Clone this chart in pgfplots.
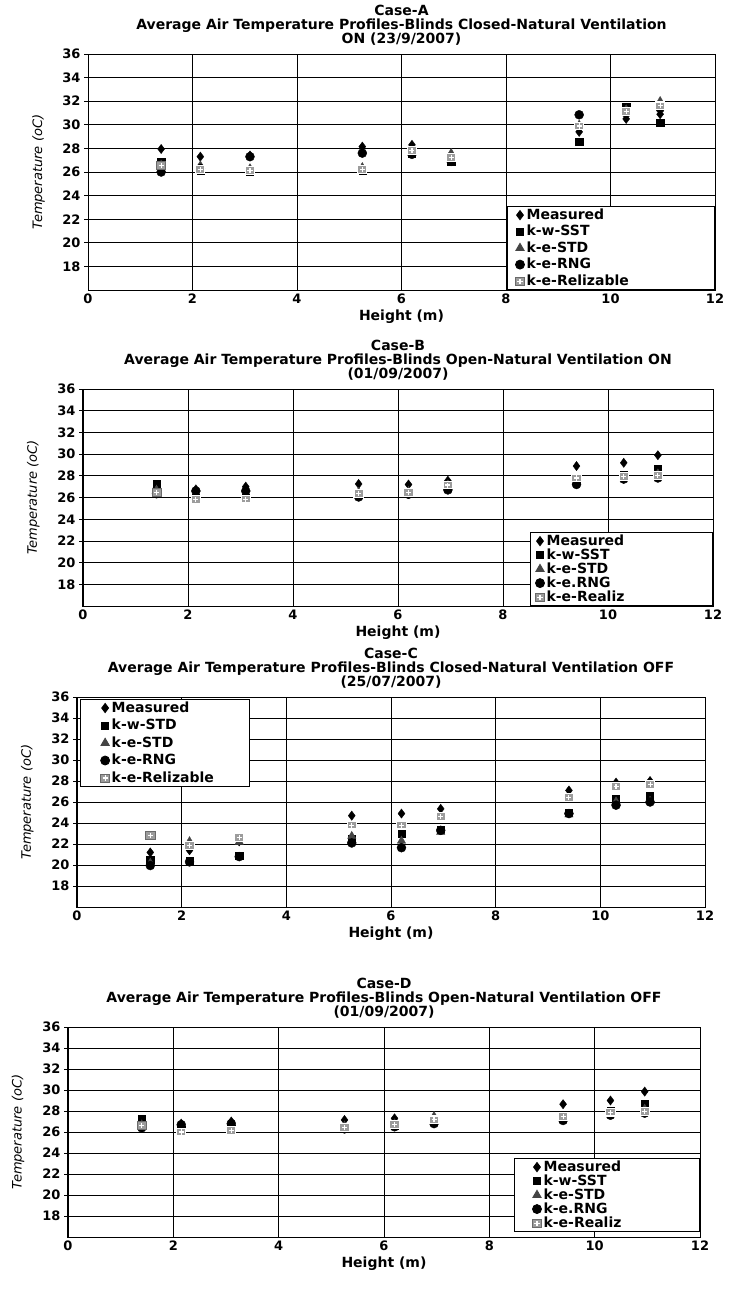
\documentclass[border=0pt]{standalone}
\usepackage{pgfplots}
\pgfplotsset{compat=1.18}
\usepackage{pgfplotstable}
\usepackage{fontspec}
\setmainfont{DejaVu Sans}

\definecolor{stdgray}{HTML}{444444}
\definecolor{realfill}{HTML}{9C9C9C}
\definecolor{realdraw}{HTML}{6A6A6A}

\pgfdeclareplotmark{sqplus}{%
  \pgfpathrectangle{\pgfqpoint{-\pgfplotmarksize}{-0.85\pgfplotmarksize}}{\pgfqpoint{2\pgfplotmarksize}{1.7\pgfplotmarksize}}%
  \pgfusepathqfillstroke
  \pgfsetstrokecolor{white}%
  \pgfsetlinewidth{1.1pt}%
  \pgfpathmoveto{\pgfqpoint{-0.55\pgfplotmarksize}{0pt}}%
  \pgfpathlineto{\pgfqpoint{0.55\pgfplotmarksize}{0pt}}%
  \pgfpathmoveto{\pgfqpoint{0pt}{-0.55\pgfplotmarksize}}%
  \pgfpathlineto{\pgfqpoint{0pt}{0.55\pgfplotmarksize}}%
  \pgfusepathqstroke
}

\pgfplotstableread{
x     meas  sst   std   rng   real
1.4   27.95 26.9  26.6  26.0  26.55
2.15  27.3  26.1  26.55 26.3  26.2
3.1   27.4  26.0  26.3  27.3  26.1
5.25  28.15 26.1  26.4  27.6  26.2
6.2   28.3  27.6  27.8  27.5  27.85
6.95  27.3  26.9  27.6  26.9  27.2
9.4   29.4  28.6  30.0  30.85 29.9
10.3  30.5  31.5  31.3  31.0  31.1
10.95 30.9  30.15 32.0  31.4  31.6
}\dataA

\pgfplotstableread{
x     meas  sst   std   rng   real
1.4   26.9  27.25 26.7  26.35 26.5
2.15  26.75 26.0  26.1  26.6  25.8
3.1   27.0  26.0  26.1  26.6  25.85
5.25  27.25 26.3  26.5  26.05 26.35
6.2   27.2  26.4  26.6  26.3  26.45
6.95  27.55 26.9  27.2  26.7  27.15
9.4   28.9  27.6  27.5  27.2  27.8
10.3  29.2  28.1  27.8  27.7  27.95
10.95 29.9  28.6  28.2  27.8  28.0
}\dataB

\pgfplotstableread{
x     meas  sst   std   rng   real
1.4   21.2  20.5  20.2  19.95 22.8
2.15  21.4  20.4  22.25 20.3  21.85
3.1   22.25 20.9  22.2  20.8  22.6
5.25  24.7  22.5  22.75 22.1  23.8
6.2   24.9  23.0  22.3  21.65 23.8
6.95  25.35 23.4  23.15 23.3  24.6
9.4   27.1  25.0  24.8  24.9  26.45
10.3  27.85 26.3  26.05 25.7  27.5
10.95 28.0  26.6  26.1  26.0  27.7
}\dataC

\pgfplotstableread{
x     meas  sst   std   rng   real
1.4   26.9  27.3  26.7  26.4  26.65
2.15  26.8  26.2  26.3  26.7  26.0
3.1   27.0  26.3  26.4  26.8  26.15
5.25  27.15 26.5  26.6  26.3  26.4
6.2   27.3  26.6  26.8  26.5  26.7
6.95  27.3  27.0  27.5  26.8  27.15
9.4   28.65 27.3  27.4  27.1  27.5
10.3  29.0  28.0  27.8  27.6  27.9
10.95 29.85 28.65 28.2  27.8  27.95
}\dataD

\pgfplotsset{
  panel/.style={
    scale only axis,
    xmin=0, xmax=12, ymin=16, ymax=36,
    xtick={0,2,...,12}, ytick={18,20,...,36},
    xmajorgrids, ymajorgrids,
    major grid style={black, line width=0.8pt},
    axis line style={black, line width=1pt},
    xtick align=inside, ytick align=outside,
    xtick pos=bottom, ytick pos=left,
    major tick length=4pt,
    tick style={black, line width=0.8pt},
    ticklabel style={font=\bfseries\fontsize{13}{14}\selectfont},
    /pgf/number format/assume math mode=true,
    xlabel={Height (m)},
    xlabel style={font=\bfseries\fontsize{14}{15}\selectfont},
    ylabel={Temperature (oC)},
    ylabel style={font=\itshape\fontsize{13}{14}\selectfont, at={(axis description cs:-0.079,0.5)}, anchor=center},
    title style={font=\bfseries\fontsize{14}{14}\selectfont, align=center, at={(axis description cs:0.5,1)}, anchor=south, inner sep=0pt, yshift=2pt},
    legend cell align=left,
    legend style={draw=black, line width=0.8pt, fill=white,
      font=\bfseries\fontsize{14}{15}\selectfont,
      inner ysep=1.5pt,
      nodes={inner sep=0pt, text height=11pt, text depth=3pt},
      /tikz/every odd column/.style={column sep=2pt}},
  },
  lg/.style={legend image code/.code={\draw[mark repeat=2,mark phase=2,##1] plot coordinates {(0pt,0pt)(6pt,0pt)(12pt,0pt)};}},
  smeas/.style={only marks, lg, mark=diamond*, mark size=4.6pt, color=black},
  ssst/.style={only marks, lg, mark=square*, mark size=3.6pt, color=black},
  sstd/.style={only marks, lg, mark=triangle*, mark size=4.8pt, color=stdgray},
  srng/.style={only marks, lg, mark=*, mark size=4.5pt, color=black},
  sreal/.style={only marks, lg, mark=sqplus, mark size=4.6pt, draw=realdraw, fill=realfill, mark options={draw=realdraw, fill=realfill, line width=0.6pt}},
}

\begin{document}
\begin{tikzpicture}
\useasboundingbox (0,0) rectangle (731pt,-1307pt);

% ---------------- Case A
\begin{axis}[panel, at={(88pt,-290pt)}, anchor=south west, width=627pt, height=236pt,
  title={Case-A\\Average Air Temperature Profiles-Blinds Closed-Natural Ventilation\\ON (23/9/2007)},
  legend style={at={(axis description cs:1,0)}, anchor=south east, inner xsep=8pt, row sep=2.5pt}]
\addplot[smeas] table[x=x,y=meas] {\dataA}; \addlegendentry{\makebox[180pt][l]{Measured}}
\addplot[ssst] table[x=x,y=sst] {\dataA}; \addlegendentry{\makebox[180pt][l]{k-w-SST}}
\addplot[sstd] table[x=x,y=std] {\dataA}; \addlegendentry{\makebox[180pt][l]{k-e-STD}}
\addplot[srng] table[x=x,y=rng] {\dataA}; \addlegendentry{\makebox[180pt][l]{k-e-RNG}}
\addplot[sreal] table[x=x,y=real] {\dataA}; \addlegendentry{\makebox[180pt][l]{k-e-Relizable}}
\end{axis}

% ---------------- Case B
\begin{axis}[panel, at={(83pt,-606pt)}, anchor=south west, width=630pt, height=217pt,
  title={Case-B\\Average Air Temperature Profiles-Blinds Open-Natural Ventilation ON\\(01/09/2007)},
  legend style={at={(axis description cs:1,0)}, anchor=south east, inner xsep=5pt, row sep=0pt}]
\addplot[smeas] table[x=x,y=meas] {\dataB}; \addlegendentry{\makebox[161pt][l]{Measured}}
\addplot[ssst] table[x=x,y=sst] {\dataB}; \addlegendentry{\makebox[161pt][l]{k-w-SST}}
\addplot[sstd] table[x=x,y=std] {\dataB}; \addlegendentry{\makebox[161pt][l]{k-e-STD}}
\addplot[srng] table[x=x,y=rng] {\dataB}; \addlegendentry{\makebox[161pt][l]{k-e.RNG}}
\addplot[sreal] table[x=x,y=real] {\dataB}; \addlegendentry{\makebox[161pt][l]{k-e-Realiz}}
\end{axis}

% ---------------- Case C
\begin{axis}[panel, at={(77pt,-907pt)}, anchor=south west, width=628pt, height=210pt,
  title={Case-C\\Average Air Temperature Profiles-Blinds Closed-Natural Ventilation OFF\\(25/07/2007)},
  legend style={at={(axis description cs:0.005,0.99)}, anchor=north west, inner xsep=20pt, row sep=3.5pt}]
\addplot[smeas] table[x=x,y=meas] {\dataC}; \addlegendentry{\makebox[118pt][l]{Measured}}
\addplot[ssst] table[x=x,y=sst] {\dataC}; \addlegendentry{\makebox[118pt][l]{k-w-STD}}
\addplot[sstd] table[x=x,y=std] {\dataC}; \addlegendentry{\makebox[118pt][l]{k-e-STD}}
\addplot[srng] table[x=x,y=rng] {\dataC}; \addlegendentry{\makebox[118pt][l]{k-e-RNG}}
\addplot[sreal] table[x=x,y=real] {\dataC}; \addlegendentry{\makebox[118pt][l]{k-e-Relizable}}
\end{axis}

% ---------------- Case D
\begin{axis}[panel, at={(68pt,-1237pt)}, anchor=south west, width=632pt, height=210pt,
  title={Case-D\\Average Air Temperature Profiles-Blinds Open-Natural Ventilation OFF\\(01/09/2007)},
  legend style={at={(axis description cs:1,0.024)}, anchor=south east, inner xsep=18pt, row sep=0pt}]
\addplot[smeas] table[x=x,y=meas] {\dataD}; \addlegendentry{\makebox[138pt][l]{Measured}}
\addplot[ssst] table[x=x,y=sst] {\dataD}; \addlegendentry{\makebox[138pt][l]{k-w-SST}}
\addplot[sstd] table[x=x,y=std] {\dataD}; \addlegendentry{\makebox[138pt][l]{k-e-STD}}
\addplot[srng] table[x=x,y=rng] {\dataD}; \addlegendentry{\makebox[138pt][l]{k-e.RNG}}
\addplot[sreal] table[x=x,y=real] {\dataD}; \addlegendentry{\makebox[138pt][l]{k-e-Realiz}}
\end{axis}
\end{tikzpicture}
\end{document}
